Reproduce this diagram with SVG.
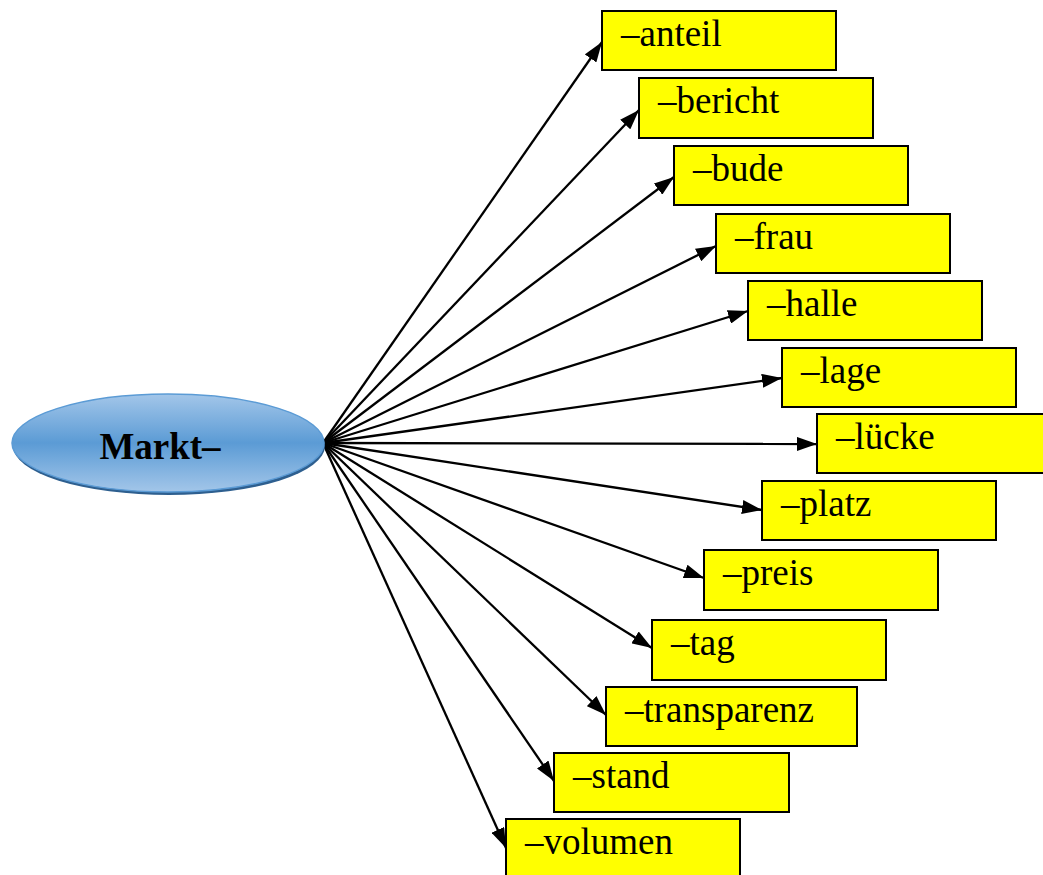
<svg xmlns="http://www.w3.org/2000/svg" width="1043" height="875" viewBox="0 0 1043 875">
<style>
.box{fill:#ffff00;stroke:#000;stroke-width:2}
.lbl{font-family:"Liberation Serif","Times New Roman",serif;font-size:37px;fill:#000}
.con{stroke:#000;stroke-width:2.3;fill:none}
</style>
<defs>
<marker id="ah" viewBox="0 0 10 10" refX="10" refY="5" markerWidth="20" markerHeight="14" markerUnits="userSpaceOnUse" orient="auto" preserveAspectRatio="none">
<path d="M0,0 L10,5 L0,10 Z" fill="#000"/>
</marker>
<linearGradient id="eg" x1="0" y1="0" x2="0" y2="1">
<stop offset="0" stop-color="#a3c6e9"/>
<stop offset="0.5" stop-color="#5b9bd5"/>
<stop offset="1" stop-color="#a3c6e9"/>
</linearGradient>
</defs>
<g id="connectors">
<line class="con" marker-end="url(#ah)" x1="323" y1="443" x2="602" y2="42"/>
<line class="con" marker-end="url(#ah)" x1="323" y1="443" x2="639" y2="110"/>
<line class="con" marker-end="url(#ah)" x1="323" y1="443" x2="674" y2="177"/>
<line class="con" marker-end="url(#ah)" x1="323" y1="443" x2="716" y2="246"/>
<line class="con" marker-end="url(#ah)" x1="323" y1="443" x2="748" y2="311"/>
<line class="con" marker-end="url(#ah)" x1="323" y1="443" x2="782" y2="378"/>
<line class="con" marker-end="url(#ah)" x1="323" y1="443" x2="817" y2="444"/>
<line class="con" marker-end="url(#ah)" x1="323" y1="443" x2="762" y2="510"/>
<line class="con" marker-end="url(#ah)" x1="323" y1="443" x2="704" y2="578"/>
<line class="con" marker-end="url(#ah)" x1="323" y1="443" x2="652" y2="648"/>
<line class="con" marker-end="url(#ah)" x1="323" y1="443" x2="606" y2="715"/>
<line class="con" marker-end="url(#ah)" x1="323" y1="443" x2="554" y2="781"/>
<line class="con" marker-end="url(#ah)" x1="323" y1="443" x2="506" y2="848"/>
</g>
<g id="node-markt">
<ellipse cx="169" cy="446" rx="156" ry="49" fill="#2e5f8f"/>
<ellipse cx="168" cy="443" rx="156" ry="49" fill="url(#eg)" stroke="#5b9bd5" stroke-width="1.5"/>
<text x="160" y="459" text-anchor="middle" font-family="Liberation Serif, Times New Roman, serif" font-size="37" font-weight="bold" fill="#000">Markt–</text>
</g>
<g id="node-anteil"><rect class="box" x="602" y="11" width="234" height="59"/><text class="lbl" x="621" y="46">–anteil</text></g>
<g id="node-bericht"><rect class="box" x="639" y="78" width="234" height="60"/><text class="lbl" x="658" y="113">–bericht</text></g>
<g id="node-bude"><rect class="box" x="674" y="146" width="234" height="59"/><text class="lbl" x="693" y="181">–bude</text></g>
<g id="node-frau"><rect class="box" x="716" y="214" width="234" height="59"/><text class="lbl" x="735" y="249">–frau</text></g>
<g id="node-halle"><rect class="box" x="748" y="281" width="234" height="59"/><text class="lbl" x="767" y="316">–halle</text></g>
<g id="node-lage"><rect class="box" x="782" y="348" width="234" height="59"/><text class="lbl" x="801" y="383">–lage</text></g>
<g id="node-luecke"><rect class="box" x="817" y="414" width="234" height="59"/><text class="lbl" x="836" y="449">–lücke</text></g>
<g id="node-platz"><rect class="box" x="762" y="481" width="234" height="59"/><text class="lbl" x="781" y="516">–platz</text></g>
<g id="node-preis"><rect class="box" x="704" y="550" width="234" height="60"/><text class="lbl" x="723" y="585">–preis</text></g>
<g id="node-tag"><rect class="box" x="652" y="620" width="234" height="60"/><text class="lbl" x="671" y="655">–tag</text></g>
<g id="node-transparenz"><rect class="box" x="606" y="687" width="251" height="59"/><text class="lbl" x="625" y="722">–transparenz</text></g>
<g id="node-stand"><rect class="box" x="554" y="753" width="235" height="59"/><text class="lbl" x="573" y="788">–stand</text></g>
<g id="node-volumen"><rect class="box" x="506" y="819" width="234" height="60"/><text class="lbl" x="525" y="854">–volumen</text></g>
</svg>
